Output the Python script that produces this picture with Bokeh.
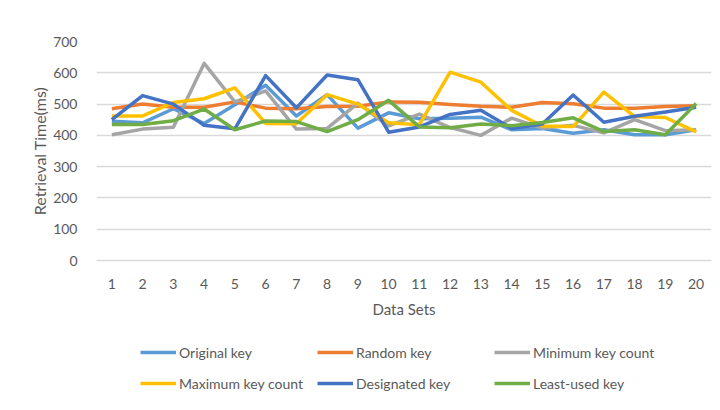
from bokeh.plotting import figure
from bokeh.models import Range1d, FixedTicker, Legend, LegendItem
from bokeh.layouts import column
from bokeh.embed import file_html
from bokeh.resources import INLINE

data_sets = list(range(1, 21))
original_key = [445, 440, 485, 438, 498, 560, 462, 530, 423, 472, 453, 455, 458, 418, 422, 407, 418, 402, 402, 418]
random_key = [485, 500, 490, 490, 507, 487, 485, 492, 493, 507, 506, 499, 493, 490, 505, 501, 487, 487, 492, 495]
minimum_key_count = [402, 420, 426, 630, 507, 542, 420, 422, 503, 430, 468, 425, 400, 455, 423, 432, 408, 450, 415, 418]
maximum_key_count = [462, 462, 505, 517, 552, 438, 437, 530, 500, 440, 434, 602, 570, 480, 430, 428, 538, 460, 457, 411]
designated_key = [450, 527, 500, 432, 421, 591, 488, 593, 578, 410, 427, 467, 480, 422, 436, 529, 442, 461, 475, 490]
least_used_key = [435, 435, 447, 484, 418, 446, 444, 412, 450, 512, 427, 424, 436, 431, 441, 456, 412, 418, 402, 502]

series = [
    ("Original key", original_key, "#5B9BD5"),
    ("Random key", random_key, "#ED7D31"),
    ("Minimum key count", minimum_key_count, "#A5A5A5"),
    ("Maximum key count", maximum_key_count, "#FFC000"),
    ("Designated key", designated_key, "#4472C4"),
    ("Least-used key", least_used_key, "#70AD47"),
]

FONT = "Lato"
TXT = "#595959"

p = figure(width=712, height=330, output_backend="svg", toolbar_location=None,
           x_range=Range1d(0.5, 20.5), y_range=Range1d(0, 700),
           min_border_left=96, min_border_right=1, min_border_top=41, min_border_bottom=70)
p.outline_line_color = None

for name, vals, color in series:
    p.line(data_sets, vals, line_color=color, line_width=3.5, line_join="round")

p.xgrid.grid_line_color = None
p.ygrid.grid_line_color = "#D9D9D9"
p.ygrid.grid_line_width = 1.3

p.xaxis.ticker = FixedTicker(ticks=data_sets)
p.yaxis.ticker = FixedTicker(ticks=[0, 100, 200, 300, 400, 500, 600, 700])

for ax in (p.xaxis[0], p.yaxis[0]):
    ax.major_tick_line_color = None
    ax.minor_tick_line_color = None
    ax.major_label_text_font = FONT
    ax.major_label_text_font_size = "14px"
    ax.major_label_text_color = TXT
    ax.axis_label_text_font = FONT
    ax.axis_label_text_font_size = "15px"
    ax.axis_label_text_font_style = "normal"
    ax.axis_label_text_color = TXT

p.yaxis.axis_label_text_font_size = "16px"
p.xaxis.axis_line_color = "#D9D9D9"
p.xaxis.axis_line_width = 1.3
p.yaxis.axis_line_color = None
p.xaxis.axis_label = "Data Sets"
p.yaxis.axis_label = "Retrieval Time(ms)"
p.xaxis.major_label_standoff = 12
p.xaxis.axis_label_standoff = 8
p.yaxis.major_label_standoff = 13
p.yaxis.axis_label_standoff = 1

# legend in its own strip below the chart (its lines lie outside the strip's visible range)
lg = figure(width=712, height=80, output_backend="svg", toolbar_location=None,
            x_axis_type=None, y_axis_type=None, min_border=0,
            x_range=Range1d(0.5, 20.5), y_range=Range1d(-1000, -900))
lg.outline_line_color = None
lg.grid.grid_line_color = None
items = []
for name, vals, color in series:
    r = lg.line(data_sets, vals, line_color=color, line_width=3.5)
    items.append(LegendItem(label=name, renderers=[r]))

legend = Legend(items=items, ncols=3, location=(44, 13), orientation="horizontal",
                label_text_font=FONT, label_text_font_size="14px", label_text_color=TXT,
                glyph_width=36, glyph_height=28, label_height=28, label_width=135,
                label_standoff=3, spacing=3, padding=6, margin=0,
                border_line_color=None, background_fill_alpha=0)
lg.add_layout(legend, "center")

layout = column(p, lg, spacing=0)
open("out.html", "w").write(file_html(layout, INLINE))
